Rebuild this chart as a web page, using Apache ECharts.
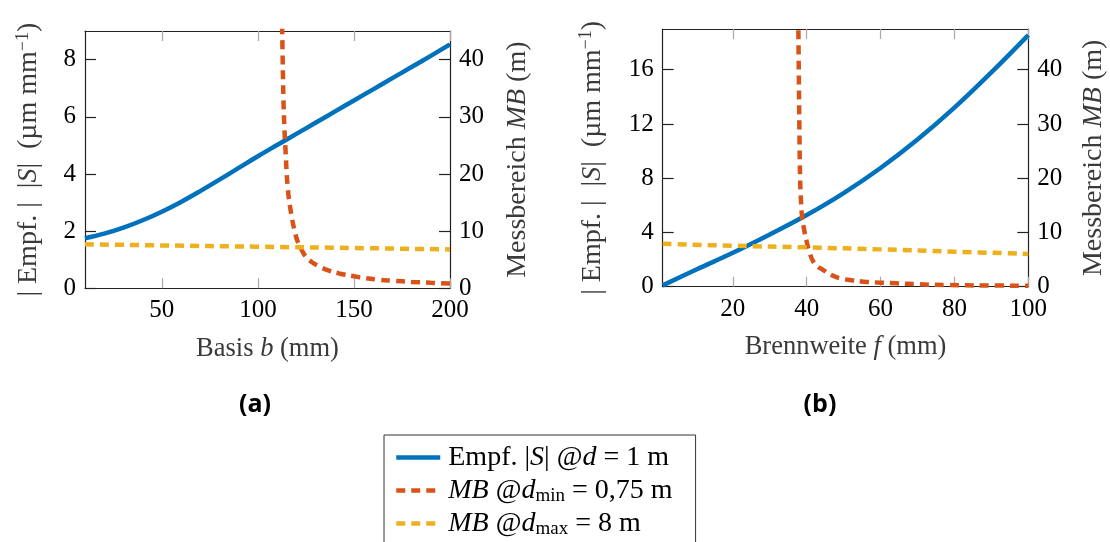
<!DOCTYPE html>
<html><head><meta charset="utf-8">
<script src="https://cdn.jsdelivr.net/npm/echarts@6/dist/echarts.min.js"></script>
<style>html,body{margin:0;padding:0;background:#fff}#c{width:1110px;height:542px}</style>
</head><body><div id="c"></div>
<script>
// ---- tick labels ----
const aXTicks = [50, 100, 150, 200];
const aYLeftTicks = [0, 2, 4, 6, 8];
const aYRightTicks = [0, 10, 20, 30, 40];
const bXTicks = [20, 40, 60, 80, 100];
const bYLeftTicks = [0, 4, 8, 12, 16];
const bYRightTicks = [0, 10, 20, 30, 40];

// ---- (a) Basis b (mm) ----
const aEmpf = [[10,1.75],[20,1.91],[30,2.12],[40,2.38],[50,2.68],[60,3.02],[70,3.40],[80,3.80],[90,4.21],[100,4.62],[110,5.01],[120,5.40],[130,5.79],[140,6.18],[150,6.57],[160,6.96],[170,7.35],[180,7.74],[190,8.13],[200,8.53]];
const aMBmin = [[112.6,46],[112.9,40],[113.3,33],[113.8,28],[114.3,24.7],[115.5,17.7],[117.3,13.1],[119.9,9.0],[122,7.2],[125,5.5],[128,4.6],[132,3.8],[137,3.1],[142.3,2.6],[150,2.1],[156.2,1.75],[163,1.5],[170,1.33],[180,1.12],[190,0.97],[200,0.85]];
const aMBmax = [[10,7.7],[50,7.5],[100,7.27],[150,7.05],[200,6.8]];

// ---- (b) Brennweite f (mm) ----
const bEmpf = [[1,0.1],[10,1.25],[20,2.5],[30,3.85],[40,5.28],[50,6.9],[60,8.75],[70,10.85],[80,13.2],[90,15.8],[100,18.55]];
const bMBmin = [[37.7,50],[37.85,40],[38.0,30],[38.2,20],[38.4,16.5],[38.7,13.2],[39.3,10.5],[40.0,8.3],[40.8,6.2],[41.8,4.6],[43,3.7],[44.5,3.07],[46.5,2.2],[49,1.55],[52,1.2],[55.4,0.92],[60,0.75],[64.4,0.62],[70,0.45],[78,0.3],[88,0.23],[100,0.18]];
const bMBmax = [[1,7.9],[20,7.55],[40,7.25],[60,6.88],[80,6.45],[100,6.05]];

const seriesNames = ['empf', 'mbmin', 'mbmax'];
const legendLabels = {
  empf: 'Empf. |{i|S}| @{i|d} = 1 m',
  mbmin: '{i|MB} @{i|d}{sub|min} = 0,75 m',
  mbmax: '{i|MB} @{i|d}{sub|max} = 8 m'
};
const axisNames = {
  aX: 'Basis {i|b} (mm)',
  bX: 'Brennweite {i|f} (mm)',
  yL: '| Empf. |  |{i|S}|  (µm mm{sup|−1})',
  yR: 'Messbereich {i|MB} (m)'
};
const colors = {empf: '#0072BD', mbmin: '#D95319', mbmax: '#EDB120'};

const SERIF = "'Liberation Serif', 'DejaVu Serif', serif";
const nameColor = '#3a3a3a';
function nameStyle(size) {
  return {fontFamily: SERIF, fontSize: size, color: nameColor, lineHeight: size + 2, rich: {
    i: {fontFamily: SERIF, fontStyle: 'italic', fontSize: size, color: nameColor, lineHeight: size + 2},
    sup: {fontFamily: SERIF, fontSize: Math.round(size * 0.66), color: nameColor, verticalAlign: 'top', lineHeight: size + 2}
  }};
}

function xAxes(g, min, max, ticks, name) {
  const common = {gridIndex: g, type: 'value', min: min, max: max, splitLine: {show: false},
    axisLine: {show: true, onZero: false, lineStyle: {color: '#222', width: 1.2}}};
  return [
    Object.assign({}, common, {position: 'bottom', name: name, nameLocation: 'middle', nameGap: 46,
      nameTextStyle: nameStyle(26.5),
      axisTick: {show: true, inside: true, length: 10, customValues: ticks, lineStyle: {color: '#a8a8a8', width: 1.2}},
      axisLabel: {show: true, customValues: ticks, margin: 10, fontFamily: SERIF, fontSize: 25, color: '#000'}}),
    Object.assign({}, common, {position: 'top',
      axisTick: {show: true, inside: true, length: 10, customValues: ticks, lineStyle: {color: '#a8a8a8', width: 1.2}},
      axisLabel: {show: false}})
  ];
}
function yAxis(g, pos, max, ticks, name, gap) {
  return {gridIndex: g, type: 'value', position: pos, min: 0, max: max, splitLine: {show: false},
    name: name, nameLocation: 'middle', nameRotate: 90, nameGap: gap, nameTextStyle: nameStyle(28),
    axisLine: {show: true, onZero: false, lineStyle: {color: '#222', width: 1.2}},
    axisTick: {show: true, inside: true, length: 11, customValues: ticks, lineStyle: {color: '#222', width: 1.2}},
    axisLabel: {show: true, customValues: ticks, margin: 9, fontFamily: SERIF, fontSize: 25, color: '#000'}};
}
function mkSeries(xi, yi, name, data, dashed) {
  return {type: 'line', name: name, xAxisIndex: xi, yAxisIndex: yi, data: data, symbol: 'none',
    smooth: 0.4, clip: true, z: name === 'empf' ? 2 : 3,
    itemStyle: {color: colors[name]},
    lineStyle: {color: colors[name], width: 4.5, type: dashed ? [9, 6] : 'solid', cap: 'butt'}};
}

const option = {
  backgroundColor: '#fff',
  animation: false,
  grid: [
    {left: 85, top: 31, width: 365, height: 257.3},
    {left: 662.7, top: 29, width: 365.6, height: 257.7}
  ],
  xAxis: [].concat(xAxes(0, 10, 200, aXTicks, axisNames.aX), xAxes(1, 1, 100, bXTicks, axisNames.bX)),
  yAxis: [
    yAxis(0, 'left', 9, aYLeftTicks, axisNames.yL, 41),
    yAxis(0, 'right', 45, aYRightTicks, axisNames.yR, 53),
    yAxis(1, 'left', 19, bYLeftTicks, axisNames.yL, 55),
    yAxis(1, 'right', 47.5, bYRightTicks, axisNames.yR, 50)
  ],
  legend: {
    show: true, left: 384, top: 435, orient: 'vertical', data: seriesNames,
    height: 140,
    formatter: function (n) { return legendLabels[n]; },
    itemWidth: 44, itemHeight: 6, itemGap: 2,
    padding: [7, 23, 30, 10],
    borderColor: '#333', borderWidth: 1, borderRadius: 0,
    itemStyle: {color: 'rgba(0,0,0,0)', borderWidth: 0, opacity: 0},
    lineStyle: {width: 4.5},
    textStyle: {fontFamily: SERIF, fontSize: 28, color: '#000', lineHeight: 31, padding: [0, 0, 0, 3],
      rich: {
        i: {fontFamily: SERIF, fontStyle: 'italic', fontSize: 28, color: '#000', lineHeight: 31},
        sub: {fontFamily: SERIF, fontSize: 19, color: '#000', verticalAlign: 'bottom', lineHeight: 28}
      }}
  },
  graphic: [
    {type: 'text', x: 255, y: 405, style: {text: '(a)', font: 'bold 25px "Open Sans", sans-serif', textAlign: 'center', textVerticalAlign: 'middle', fill: '#000'}},
    {type: 'text', x: 820, y: 405, style: {text: '(b)', font: 'bold 25px "Open Sans", sans-serif', textAlign: 'center', textVerticalAlign: 'middle', fill: '#000'}}
  ],
  series: [
    mkSeries(0, 0, 'empf', aEmpf, false),
    mkSeries(0, 1, 'mbmin', aMBmin, true),
    mkSeries(0, 1, 'mbmax', aMBmax, true),
    mkSeries(2, 2, 'empf', bEmpf, false),
    mkSeries(2, 3, 'mbmin', bMBmin, true),
    mkSeries(2, 3, 'mbmax', bMBmax, true)
  ]
};
const chart = echarts.init(document.getElementById('c'), null, {renderer: 'canvas'});
chart.setOption(option);
</script>
</body></html>
